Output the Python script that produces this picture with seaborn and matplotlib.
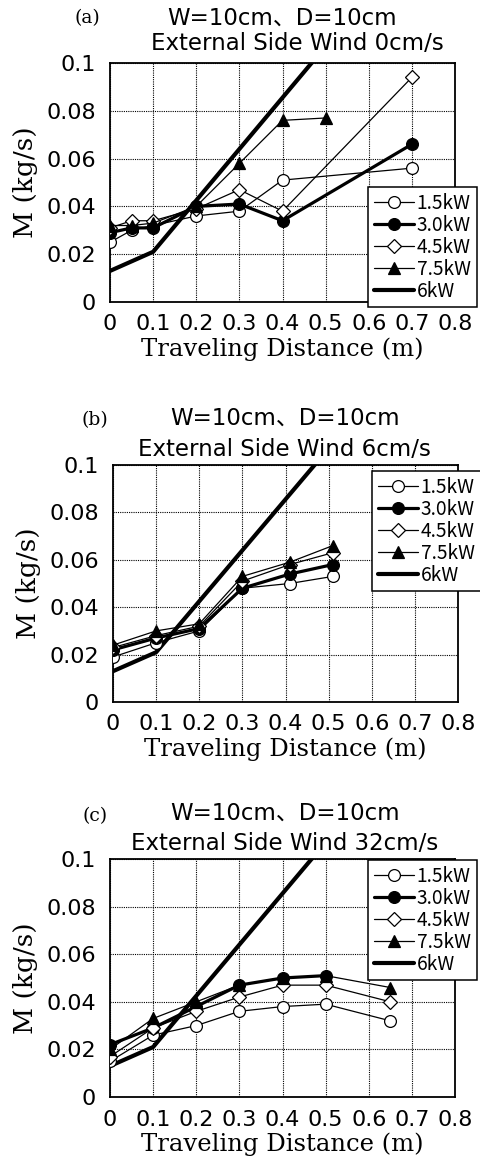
import numpy as np
import pandas as pd
import matplotlib
matplotlib.use("Agg")
import matplotlib.pyplot as plt
import seaborn as sns

# ---------------- data ----------------
series_names = ["1.5kW", "3.0kW", "4.5kW", "7.5kW", "6kW"]

# panel (a): side wind 0 cm/s
a_x_15 = [0, 0.05, 0.1, 0.2, 0.3, 0.4, 0.7]
a_y_15 = [0.025, 0.030, 0.032, 0.036, 0.038, 0.051, 0.056]
a_x_30 = [0, 0.05, 0.1, 0.2, 0.3, 0.4, 0.7]
a_y_30 = [0.029, 0.031, 0.031, 0.040, 0.041, 0.034, 0.066]
a_x_45 = [0, 0.05, 0.1, 0.2, 0.3, 0.4, 0.7]
a_y_45 = [0.031, 0.034, 0.034, 0.039, 0.047, 0.038, 0.094]
a_x_75 = [0, 0.05, 0.1, 0.2, 0.3, 0.4, 0.5]
a_y_75 = [0.032, 0.032, 0.033, 0.040, 0.058, 0.076, 0.077]

# panel (b): side wind 6 cm/s
b_x = [0, 0.1, 0.2, 0.3, 0.41, 0.51]
b_y_15 = [0.019, 0.025, 0.030, 0.048, 0.050, 0.053]
b_y_30 = [0.022, 0.027, 0.031, 0.048, 0.054, 0.058]
b_y_45 = [0.023, 0.028, 0.032, 0.051, 0.058, 0.063]
b_y_75 = [0.024, 0.030, 0.033, 0.053, 0.059, 0.066]

# panel (c): side wind 32 cm/s
c_x = [0, 0.1, 0.2, 0.3, 0.4, 0.5, 0.65]
c_y_15 = [0.015, 0.026, 0.030, 0.036, 0.038, 0.039, 0.032]
c_x_30 = [0, 0.1, 0.2, 0.3, 0.4, 0.5]
c_y_30 = [0.022, 0.029, 0.038, 0.047, 0.050, 0.051]
c_y_45 = [0.017, 0.029, 0.036, 0.042, 0.047, 0.047, 0.040]
c_y_75 = [0.020, 0.033, 0.040, 0.047, 0.050, 0.051, 0.046]

# 6 kW reference line (same in all panels)
ref_x = [0, 0.1, 0.2, 0.3, 0.4, 0.5]
ref_y = [0.013, 0.021, 0.0425, 0.064, 0.0855, 0.107]

panel_letters = ["(a)", "(b)", "(c)"]
title_line1 = "W=10cm、D=10cm"
title_line2 = ["External Side Wind 0cm/s", "External Side Wind 6cm/s",
               "External Side Wind 32cm/s"]
x_ticks = [0, 0.1, 0.2, 0.3, 0.4, 0.5, 0.6, 0.7, 0.8]
x_ticklabels = ["0", "0.1", "0.2", "0.3", "0.4", "0.5", "0.6", "0.7", "0.8"]
y_ticks = [0, 0.02, 0.04, 0.06, 0.08, 0.1]
y_ticklabels = ["0", "0.02", "0.04", "0.06", "0.08", "0.1"]
x_label = "Traveling Distance (m)"
y_label = "M (kg/s)"

panels = [
    [(a_x_15, a_y_15), (a_x_30, a_y_30), (a_x_45, a_y_45), (a_x_75, a_y_75), (ref_x, ref_y)],
    [(b_x, b_y_15), (b_x, b_y_30), (b_x, b_y_45), (b_x, b_y_75), (ref_x, ref_y)],
    [(c_x, c_y_15), (c_x_30, c_y_30), (c_x, c_y_45), (c_x, c_y_75), (ref_x, ref_y)],
]

# ---------------- style ----------------
sns.set_style("white")
plt.rcParams["font.family"] = ["DejaVu Sans", "Noto Sans CJK JP"]
plt.rcParams["text.color"] = "black"
plt.rcParams["axes.labelcolor"] = "black"
plt.rcParams["xtick.color"] = "black"
plt.rcParams["ytick.color"] = "black"

styles = {
    "1.5kW": dict(marker="o", markersize=8.5, markerfacecolor="white",
                  markeredgecolor="black", markeredgewidth=0.9, linewidth=0.9),
    "3.0kW": dict(marker="o", markersize=8.5, markerfacecolor="black",
                  markeredgecolor="black", markeredgewidth=0.9, linewidth=2.3),
    "4.5kW": dict(marker="D", markersize=7, markerfacecolor="white",
                  markeredgecolor="black", markeredgewidth=0.9, linewidth=0.9),
    "7.5kW": dict(marker="^", markersize=8.5, markerfacecolor="black",
                  markeredgecolor="black", markeredgewidth=0.9, linewidth=0.9),
    "6kW": dict(marker=None, linewidth=3.0),
}

W, H = 481, 1164
fig = plt.figure(figsize=(W / 100, H / 100), dpi=100)

# axes boxes in pixels: left, top, right, bottom
ax_boxes = [(110, 63, 455, 302), (113, 465, 458, 702), (110, 859, 455, 1097)]
legend_tl = [(368, 187), (372, 471), (368, 860)]
letter_pos = [(87, 18), (95, 420), (95, 816)]
t1_pos = [(282, 18), (285, 418), (285, 813)]
t2_pos = [(297, 43), (284, 450), (285, 843)]

def fx(x):
    return x / W

def fy(y):
    return 1 - y / H

for i, (box, data) in enumerate(zip(ax_boxes, panels)):
    l, t, r, b = box
    ax = fig.add_axes([fx(l), fy(b), (r - l) / W, (b - t) / H])
    for name, (xs, ys) in zip(series_names, data):
        df = pd.DataFrame({"x": xs, "y": ys})
        st = styles[name]
        sns.lineplot(data=df, x="x", y="y", ax=ax, color="black", label=name,
                     zorder=3 if name != "6kW" else 2, clip_on=True, **st)
    ax.set_xlim(0, 0.8)
    ax.set_ylim(0, 0.1)
    ax.set_xticks(x_ticks)
    ax.set_xticklabels(x_ticklabels, fontsize=16)
    ax.set_yticks(y_ticks)
    ax.set_yticklabels(y_ticklabels, fontsize=16)
    ax.tick_params(length=0)
    ax.tick_params(axis="y", pad=10)
    ax.tick_params(axis="x", pad=9)
    ax.grid(True, color="black", linestyle=(0, (1, 1)), linewidth=0.8)
    for sp in ax.spines.values():
        sp.set_color("black")
        sp.set_linewidth(1.3)
    ax.set_xlabel(x_label, family="DejaVu Serif", fontsize=17.5, labelpad=2)
    ax.set_ylabel(y_label, family="DejaVu Serif", fontsize=19, labelpad=6)
    leg = ax.legend(loc="upper left",
                    bbox_to_anchor=(fx(legend_tl[i][0]), fy(legend_tl[i][1])),
                    bbox_transform=fig.transFigure, frameon=True, fancybox=False,
                    framealpha=1, edgecolor="black",
                    prop={"family": "Noto Sans CJK JP", "size": 13.8},
                    labelspacing=0.05, borderpad=0.3, handlelength=2.1,
                    handletextpad=0.15, borderaxespad=0)
    leg.get_frame().set_linewidth(1.1)
    leg.set_zorder(10)

    fig.text(fx(letter_pos[i][0]), fy(letter_pos[i][1]), panel_letters[i],
             family="DejaVu Serif", fontsize=13.5, ha="center", va="center")
    fig.text(fx(t1_pos[i][0]), fy(t1_pos[i][1]), title_line1,
             fontsize=16.5, ha="center", va="center")
    fig.text(fx(t2_pos[i][0]), fy(t2_pos[i][1]), title_line2[i],
             fontsize=16.5, ha="center", va="center")

fig.savefig("out.png", dpi=100)
